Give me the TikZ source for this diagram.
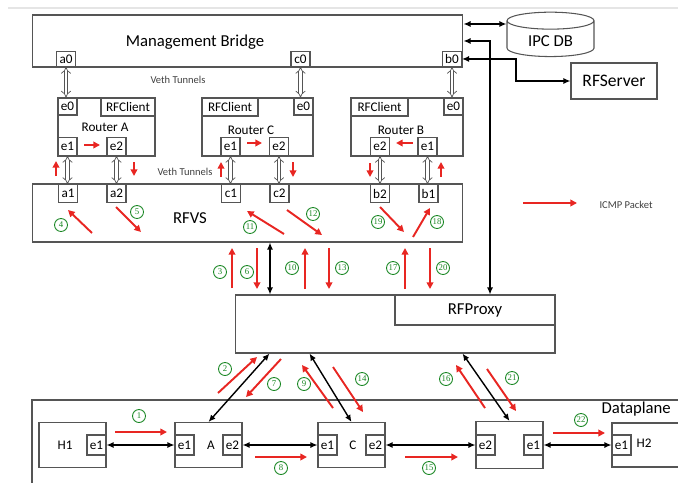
\documentclass[tikz,border=0pt]{standalone}
\usepackage{fontspec}
\setmainfont{Carlito}
\newfontfamily\numfont{Liberation Serif}
\usetikzlibrary{arrows.meta,shapes.geometric,calc}
\definecolor{pktred}{RGB}{232,38,34}
\definecolor{stepgreen}{RGB}{25,135,35}
\definecolor{linegray}{RGB}{85,85,85}

\begin{document}
\begin{tikzpicture}[x=0.02cm, y=-0.02cm,
    box/.style={draw=linegray, line width=0.6pt, inner sep=0pt},
    port/.style={box, fill=white, font=\fontsize{7.5}{8}\selectfont, minimum width=0.38cm, minimum height=0.36cm},
    tunnel/.style={draw=linegray, line width=0.4pt, double=white, double distance=1.6pt, {Implies}-{Implies}},
    link/.style={black, line width=0.8pt, {Latex[length=4pt,width=3.5pt]}-{Latex[length=4pt,width=3.5pt]}},
    pkt/.style={pktred, line width=1.1pt, -{Triangle[length=3.8pt,width=3.8pt]}},
    num/.style={draw=stepgreen, text=stepgreen, circle, line width=0.5pt, inner sep=0pt, minimum size=0.26cm, font=\numfont\fontsize{5}{5}\selectfont},
    lbl/.style={font=\fontsize{7.5}{8}\selectfont},
    big/.style={font=\fontsize{9.5}{10}\selectfont},
    tiny/.style={text=black!75, font=\fontsize{6}{6}\selectfont}]
    \useasboundingbox (0,0) rectangle (678,483);
    \draw[gray!20, line width=0.6pt] (8,8) -- (678,8);

    % 绘制管理网桥
    \node[box, minimum width=8.62cm, minimum height=1.04cm] (mb) at (247.5,41) {};
    \node[big] (mbtext) at (195,42) {Management Bridge};
    \node[port, minimum height=0.3cm, anchor=south] (a0) at (66,67) {a0};
    \node[port, minimum height=0.3cm, anchor=south] (c0) at (300.5,67) {c0};
    \node[port, minimum height=0.3cm, anchor=south] (b0) at (452,67) {b0};

    % 绘制 IPC DB 与 RFServer
    \node[cylinder, shape border rotate=90, draw=linegray, line width=0.6pt, aspect=0.3, minimum width=1.74cm, minimum height=0.8cm, big] (ipc) at (550.5,41) {IPC DB};
    \node[box, minimum width=1.72cm, minimum height=0.72cm, font=\fontsize{10}{11}\selectfont] (rfs) at (614,81) {RFServer};
    \draw[link] (mb.east |- 0,24) -- (ipc.west |- 0,24);
    \draw[link] (b0.east) -- ++(54,0) |- (rfs.west);

    % 绘制路由器 A
    \node[box, minimum width=1.94cm, minimum height=1.16cm] (ra) at (106.5,127) {};
    \node[box, lbl, anchor=north east, minimum width=1.08cm, minimum height=0.36cm] (rca) at (ra.north east) {RFClient};
    \node[port, anchor=north west, minimum height=0.34cm] (ae0) at (ra.north west) {e0};
    \node[lbl] (ratext) at (105,127) {Router A};
    \node[port, anchor=south] (ae1) at (67.5,156) {e1};
    \node[port, anchor=south] (ae2) at (116.5,156) {e2};

    % 绘制路由器 C
    \node[box, minimum width=2.22cm, minimum height=1.16cm] (rc) at (257.5,127) {};
    \node[box, lbl, anchor=north west, minimum width=1.12cm, minimum height=0.36cm] (rcc) at (rc.north west) {RFClient};
    \node[port, anchor=north east, minimum height=0.34cm] (ce0) at (rc.north east) {e0};
    \node[lbl] (rctext) at (251,130) {Router C};
    \node[port, anchor=south] (ce1) at (230.5,156) {e1};
    \node[port, anchor=south] (ce2) at (279,156) {e2};

    % 绘制路由器 B
    \node[box, minimum width=2.24cm, minimum height=1.16cm] (rb) at (407,127) {};
    \node[box, lbl, anchor=north west, minimum width=1.14cm, minimum height=0.36cm] (rcb) at (rb.north west) {RFClient};
    \node[port, anchor=north east, minimum height=0.34cm] (be0) at (rb.north east) {e0};
    \node[lbl] (rbtext) at (401,130) {Router B};
    \node[port, anchor=south] (be2) at (380,156) {e2};
    \node[port, anchor=south] (be1) at (427.5,156) {e1};

    % 绘制 RFVS
    \node[box, minimum width=8.62cm, minimum height=1.16cm] (rfvs) at (247.5,213) {};
    \node[big] (rfvstext) at (190,218) {RFVS};
    \node[port, anchor=north] (a1) at (68,184) {a1};
    \node[port, anchor=north] (a2) at (116.5,184) {a2};
    \node[port, anchor=north] (c1) at (231,184) {c1};
    \node[port, anchor=north] (c2) at (279.5,184) {c2};
    \node[port, anchor=north] (b2) at (380,184) {b2};
    \node[port, anchor=north] (b1) at (428.5,184) {b1};

    % 绘制 Veth 隧道
    \draw[tunnel] (a0.south) -- (a0.south |- ae0.north);
    \draw[tunnel] (c0.south) -- (c0.south |- ce0.north);
    \draw[tunnel] (b0.south) -- (b0.south |- be0.north);
    \draw[tunnel] (ae1.south) -- (ae1.south |- a1.north);
    \draw[tunnel] (ae2.south) -- (ae2.south |- a2.north);
    \draw[tunnel] (ce1.south) -- (ce1.south |- c1.north);
    \draw[tunnel] (ce2.south) -- (ce2.south |- c2.north);
    \draw[tunnel] (be2.south) -- (be2.south |- b2.north);
    \draw[tunnel] (be1.south) -- (be1.south |- b1.north);
    \node[tiny] (veth1) at (178,80) {Veth Tunnels};
    \node[tiny] (veth2) at (185,172) {Veth Tunnels};

    % 绘制 RFProxy
    \node[box, minimum width=6.4cm, minimum height=1.16cm] (proxy) at (395,324) {};
    \node[box, big, anchor=north east, minimum width=3.2cm, minimum height=0.6cm] (rfproxy) at (proxy.north east) {RFProxy};
    \draw[link] (rfvs.south -| 270,0) -- (proxy.north -| 270,0);
    \draw[link] (mb.east) -| (proxy.north -| 490,0);

    % 绘制数据平面
    \draw[linegray, line width=0.6pt] (678,400) -- (32,400) -- (32,483);
    \node[big, anchor=east] (dptext) at (677,409) {Dataplane};
    \node[box, minimum width=1.34cm, minimum height=0.9cm] (h1) at (72.5,445) {};
    \node[lbl] (h1text) at (65,445) {H1};
    \node[port, anchor=east, minimum height=0.4cm] (h1e1) at (h1.east) {e1};
    \node[box, minimum width=1.34cm, minimum height=0.9cm] (sa) at (208.5,445) {};
    \node[lbl] (satext) at (211,445) {A};
    \node[port, anchor=west, minimum height=0.4cm] (sae1) at (sa.west) {e1};
    \node[port, anchor=east, minimum height=0.4cm] (sae2) at (sa.east) {e2};
    \node[box, minimum width=1.34cm, minimum height=0.9cm] (sc) at (351.5,445) {};
    \node[lbl] (sctext) at (353,445) {C};
    \node[port, anchor=west, minimum height=0.4cm] (sce1) at (sc.west) {e1};
    \node[port, anchor=east, minimum height=0.4cm] (sce2) at (sc.east) {e2};
    \node[box, minimum width=1.34cm, minimum height=0.94cm] (sb) at (509.5,445) {};
    \node[port, anchor=west, minimum height=0.4cm] (sbe2) at (sb.west) {e2};
    \node[port, anchor=east, minimum height=0.4cm] (sbe1) at (sb.east) {e1};
    \node[box, minimum width=1.56cm, minimum height=0.88cm] (h2) at (651,445) {};
    \node[lbl] (h2text) at (644,443) {H2};
    \node[port, anchor=west, minimum height=0.4cm] (h2e1) at (h2.west) {e1};
    \draw[link] (h1e1.east) -- (sae1.west);
    \draw[link] (sae2.east) -- (sce1.west);
    \draw[link] (sce2.east) -- (sbe2.west);
    \draw[link] (sbe1.east) -- (h2e1.west);
    \draw[link] ($(proxy.south west)+(35,0)$) -- (sa.north);
    \draw[link] ($(proxy.south west)+(75,0)$) -- (sc.north);
    \draw[link] ($(proxy.south west)+(228,0)$) -- (sb.north);

    % 标注路由器内的 ICMP 包
    \draw[pkt] (84,145) -- (100,145);
    \draw[pkt] (56,176) -- (56,161);
    \draw[pkt] (134,162) -- (134,176);
    \draw[pkt] (247,143) -- (262,143);
    \draw[pkt] (221,177) -- (221,162);
    \draw[pkt] (293,162) -- (293,177);
    \draw[pkt] (413,143) -- (396,143);
    \draw[pkt] (370,163) -- (370,177);
    \draw[pkt] (441,177) -- (441,162);

    % 标注 RFVS 内的 ICMP 包
    \draw[pkt] (92,233) -- (68,210);
    \node[num] (n4) at (61,225) {4};
    \draw[pkt] (116,207) -- (141,232);
    \node[num] (n5) at (137,212) {5};
    \draw[pkt] (284,234) -- (247,211);
    \node[num] (n11) at (250,227) {11};
    \draw[pkt] (287,210) -- (322,235);
    \node[num] (n12) at (313,214) {12};
    \draw[pkt] (380,207) -- (404,232);
    \node[num] (n19) at (378,222) {19};
    \draw[pkt] (413,237) -- (430,208);
    \node[num] (n18) at (437,222) {18};

    % 标注 RFVS 与 RFProxy 之间的 ICMP 包
    \draw[pkt] (232,288) -- (232,248);
    \node[num] (n3) at (220,272) {3};
    \draw[pkt] (257,248) -- (257,289);
    \node[num] (n6) at (247,272) {6};
    \draw[pkt] (305,289) -- (305,248);
    \node[num] (n10) at (292,268) {10};
    \draw[pkt] (329,248) -- (329,289);
    \node[num] (n13) at (342,268) {13};
    \draw[pkt] (405,289) -- (405,248);
    \node[num] (n17) at (393,268) {17};
    \draw[pkt] (430,248) -- (430,289);
    \node[num] (n20) at (443,268) {20};

    % 标注数据平面的 ICMP 包
    \draw[pkt] (115,432) -- (167,432);
    \node[num] (n1) at (139,416) {1};
    \draw[pkt] (218,393) -- (257,357);
    \node[num] (n2) at (225,369) {2};
    \draw[pkt] (281,359) -- (246,397);
    \node[num] (n7) at (274,384) {7};
    \draw[pkt] (255,457) -- (307,457);
    \node[num] (n8) at (281,468) {8};
    \draw[pkt] (333,408) -- (302,365);
    \node[num] (n9) at (304,384) {9};
    \draw[pkt] (333,367) -- (363,412);
    \node[num] (n14) at (362,379) {14};
    \draw[pkt] (405,457) -- (458,457);
    \node[num] (n15) at (429,468) {15};
    \draw[pkt] (485,408) -- (456,365);
    \node[num] (n16) at (446,379) {16};
    \draw[pkt] (487,369) -- (516,411);
    \node[num] (n21) at (512,378) {21};
    \draw[pkt] (553,433) -- (605,433);
    \node[num] (n22) at (581,420) {22};

    % 图例
    \draw[pkt] (523,203) -- (577,203);
    \node[tiny] (legend) at (626,205) {ICMP Packet};
\end{tikzpicture}
\end{document}
